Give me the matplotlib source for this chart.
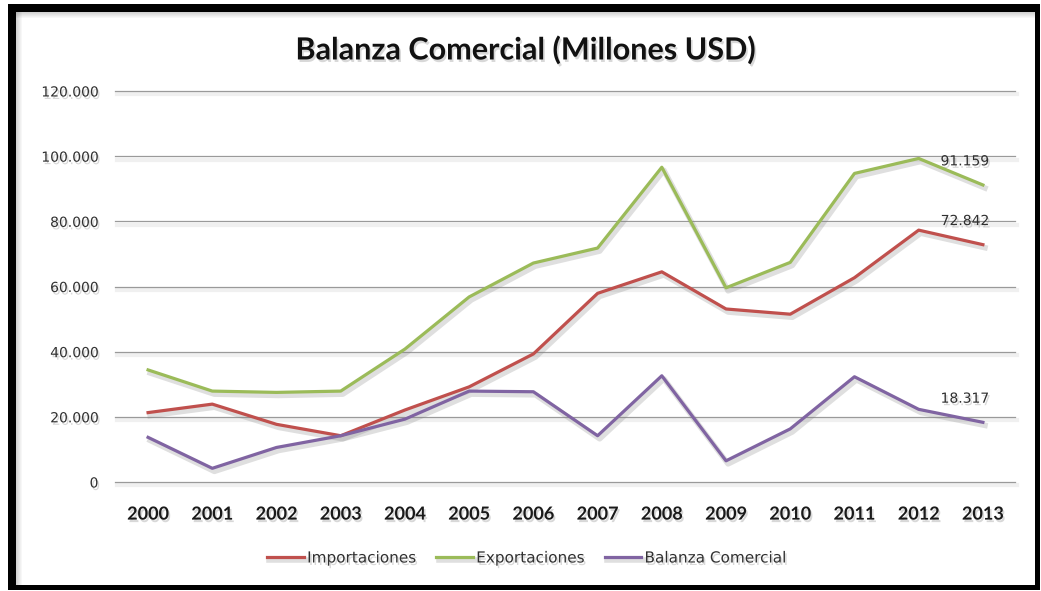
import matplotlib
matplotlib.use('Agg')
from matplotlib import pyplot as plt
from matplotlib.patches import Rectangle
import matplotlib.patheffects as pe

years = ['2000', '2001', '2002', '2003', '2004', '2005', '2006',
         '2007', '2008', '2009', '2010', '2011', '2012', '2013']
importaciones = [21300, 23900, 17700, 14200, 22100, 29200, 39300,
                 57900, 64500, 53100, 51500, 62700, 77300, 72842]
exportaciones = [34400, 27900, 27500, 27900, 40800, 56800, 67200,
                 71800, 96600, 59600, 67400, 94700, 99300, 91159]
balanza = [13700, 4200, 10600, 14200, 19300, 27900, 27700,
           14200, 32600, 6500, 16300, 32300, 22300, 18317]
y_ticks = [0, 20000, 40000, 60000, 80000, 100000, 120000]

W, H = 1041, 591

series = [
    ('Importaciones', importaciones, '#C0504D'),
    ('Exportaciones', exportaciones, '#9BBB59'),
    ('Balanza Comercial', balanza, '#8064A2'),
]

narrow = ['Lato', 'DejaVu Sans']
txt_shadow = [pe.SimplePatchShadow(offset=(1.2, -1.8), shadow_rgbFace='#909090', alpha=0.35), pe.Normal()]
line_shadow = [pe.SimpleLineShadow(offset=(1.5, -2.2), shadow_color='#808080', alpha=0.25, linewidth=4), pe.Normal()]


def fmt(v):
    return '{:,}'.format(int(v)).replace(',', '.')


fig = plt.figure(figsize=(W / 100, H / 100), dpi=100)
ax = fig.add_axes([115 / W, 1 - 482 / H, 900 / W, 391 / H])

x = list(range(len(years)))
for name, vals, col in series:
    ax.plot(x, vals, color=col, lw=2.3, label=name, path_effects=line_shadow, zorder=3)
    ax.annotate(fmt(vals[-1]), (x[-1], vals[-1]), xytext=(-13, 17), textcoords='offset points',
                ha='center', va='center', fontsize=10, color='#303030', path_effects=txt_shadow)

ax.set_xlim(-0.515, 13.5)
ax.set_ylim(0, 120000)
ax.set_yticks(y_ticks)
ax.set_yticklabels([fmt(v) for v in y_ticks])
ax.set_xticks(x)
ax.set_xticklabels(years)
ax.grid(axis='y', color='#9A9A9A', lw=0.9,
        path_effects=[pe.SimpleLineShadow(offset=(1.5, -2.5), shadow_color='#d0d0d0', alpha=0.3, linewidth=3), pe.Normal()])
for gl in ax.get_ygridlines():
    gl.set_clip_on(False)
ax.set_axisbelow(True)
for s in ax.spines.values():
    s.set_visible(False)
ax.tick_params(axis='both', length=0)
ax.tick_params(axis='y', pad=12, labelsize=10, labelcolor='#303030')
ax.tick_params(axis='x', pad=17, labelsize=13)
for lab in ax.get_xticklabels():
    lab.set_family(narrow)
    lab.set_fontweight('bold')
    lab.set_color('#1a1a1a')
    lab.set_path_effects(txt_shadow)
for lab in ax.get_yticklabels():
    lab.set_path_effects(txt_shadow)

fig.text(525 / W, 1 - 50 / H, 'Balanza Comercial (Millones USD)', ha='center', va='center',
         fontsize=22, fontweight='bold', family=narrow, color='#111111', path_effects=txt_shadow)

leg = fig.legend(loc='center', bbox_to_anchor=(527 / W, 1 - 558 / H), ncol=3, frameon=False,
                 fontsize=11, handlelength=2.4, handletextpad=0.2, columnspacing=1.3)
for t in leg.get_texts():
    t.set_color('#303030')
    t.set_path_effects(txt_shadow)


def frame(x0, y0, x1, y1, color='black', alpha=1.0):
    fig.add_artist(Rectangle((x0 / W, 1 - y1 / H), (x1 - x0) / W, (y1 - y0) / H,
                             transform=fig.transFigure, facecolor=color, edgecolor='none',
                             alpha=alpha, zorder=10))


# inner soft shadow along top and left
for i in range(6):
    a = 0.28 * (1 - i / 6)
    frame(16, 12 + i, 1035, 13 + i, '#606060', a)
    frame(16 + i, 12, 17 + i, 585, '#606060', a)

frame(8, 4, 16, 590)
frame(8, 4, 1040, 12)
frame(1035, 4, 1040, 590)
frame(8, 585, 1040, 590)

fig.savefig('out.png', dpi=100)
